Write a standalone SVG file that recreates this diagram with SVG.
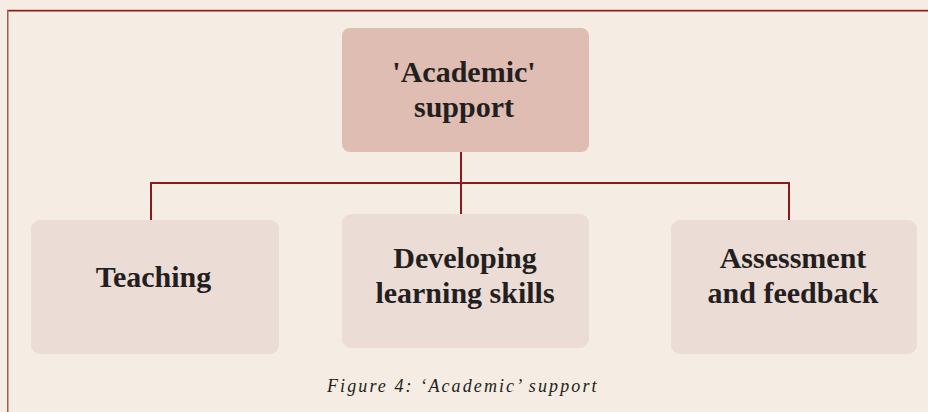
<svg xmlns="http://www.w3.org/2000/svg" width="928" height="412" viewBox="0 0 928 412">
<style>
.box{fill:#ecdcd6}
.top{fill:#dfbdb2}
.lbl{font-family:"Liberation Serif","Times New Roman",serif;font-weight:bold;font-size:30px;fill:#231f20;text-anchor:middle}
.conn{stroke:#8b1a1a;stroke-width:2;fill:none}
.cap{font-family:"Liberation Serif","Times New Roman",serif;font-style:italic;font-size:18px;letter-spacing:2.1px;fill:#231f20}
</style>
<rect x="0" y="0" width="928" height="412" fill="#f5ede3"/>
<line x1="7" y1="9.5" x2="928" y2="9.5" stroke="#e2c4bb" stroke-width="1"/>
<line x1="7" y1="10.75" x2="928" y2="10.75" stroke="#8b1a1a" stroke-width="1.5"/>
<line x1="7.75" y1="10" x2="7.75" y2="412" stroke="#a65a55" stroke-width="1.5"/>
<g id="connectors">
<line class="conn" x1="461" y1="152" x2="461" y2="214"/>
<polyline class="conn" points="151,220 151,183 789,183 789,220"/>
</g>
<g id="academic-support">
<rect class="top" x="342" y="28" width="247" height="124" rx="8"/>
<text class="lbl" x="464" y="82">'Academic'</text>
<text class="lbl" x="464" y="117">support</text>
</g>
<g id="teaching">
<rect class="box" x="31" y="220" width="248" height="134" rx="9"/>
<text class="lbl" x="153.5" y="287">Teaching</text>
</g>
<g id="developing">
<rect class="box" x="342" y="214" width="247" height="134" rx="9"/>
<text class="lbl" x="465" y="268">Developing</text>
<text class="lbl" x="465" y="303">learning skills</text>
</g>
<g id="assessment">
<rect class="box" x="671" y="220" width="246" height="134" rx="9"/>
<text class="lbl" x="793" y="268">Assessment</text>
<text class="lbl" x="793" y="303">and feedback</text>
</g>
<text class="cap" x="327" y="392">Figure 4: ‘Academic’ support</text>
</svg>
